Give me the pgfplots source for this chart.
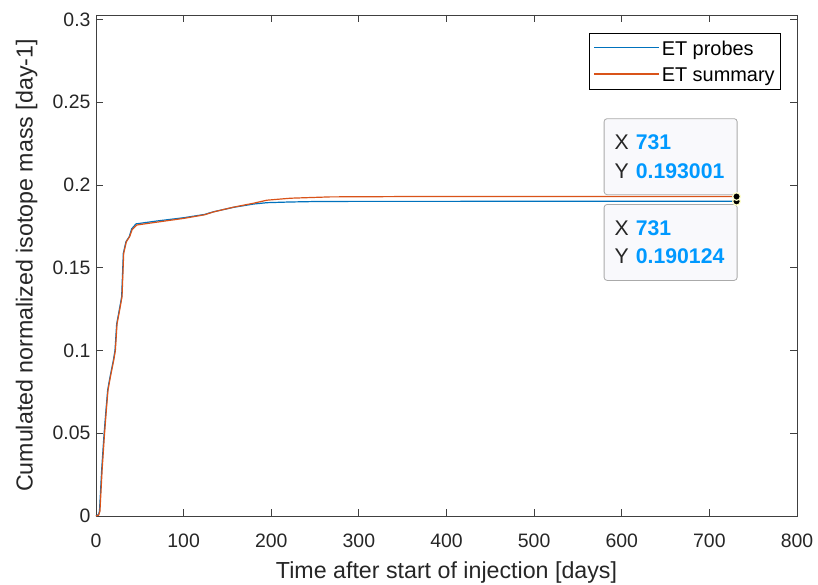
\documentclass[border=0pt]{standalone}
\usepackage{pgfplots}
\pgfplotsset{compat=1.18}
\usepackage{fontspec}
\setmainfont{Liberation Sans}
\usetikzlibrary{calc}
\definecolor{mblue}{rgb}{0,0.447,0.741}
\definecolor{morange}{rgb}{0.85,0.325,0.098}
\definecolor{axc}{RGB}{64,64,64}
\definecolor{txt}{RGB}{38,38,38}
\definecolor{tipval}{RGB}{0,153,255}
\definecolor{tipfill}{RGB}{249,249,252}
\definecolor{tipedge}{RGB}{170,170,170}
\definecolor{tipmark}{RGB}{255,255,200}
\begin{document}
\begin{tikzpicture}
\begin{axis}[
  scale only axis,
  width=701bp, height=501bp,
  xmin=0, xmax=800, ymin=0, ymax=0.3027,
  xtick={0,100,...,800},
  ytick={0,0.05,0.1,0.15,0.2,0.25,0.3},
  yticklabels={0,0.05,0.1,0.15,0.2,0.25,0.3},
  scaled y ticks=false,
  /pgf/number format/assume math mode=true,
  tick label style={font=\fontsize{19.5}{19.5}\selectfont, text=txt},
  xticklabel style={yshift=-14.5bp},
  yticklabel style={xshift=-2bp},
  axis line style={axc, line width=0.9bp},
  every tick/.style={axc, line width=0.9bp},
  major tick length=7bp,
  tick align=inside,
  xlabel={Time after start of injection [days]},
  ylabel={Cumulated normalized isotope mass [day-1]},
  every axis x label/.style={at={(axis description cs:0.5,-0.1244)}, anchor=base},
  every axis y label/.style={at={(axis description cs:-0.0903,0.5)}, anchor=base, rotate=90},
  label style={font=\fontsize{23.3}{23.3}\selectfont, text=txt},
  legend style={at={(0.7038,0.965)}, anchor=north west, draw=black, line width=0.8bp,
    font=\fontsize{20}{24}\selectfont, inner xsep=3.8bp, inner ysep=3.8bp, row sep=4bp},
  legend cell align=left,
  legend image code/.code={\draw[line width=1.2bp, #1] (0bp,0bp) -- (65bp,0bp);},
  clip=false,
]
\addplot[mblue, line width=1.2bp, forget plot] coordinates {
(0,0) (3,0.001) (4,0.003) (6.5,0.028) (9,0.048) (11.4,0.064) (13.3,0.076)
(16,0.084) (19.8,0.094) (21.7,0.100) (23.6,0.116) (26.6,0.1245) (29.3,0.1325)
(31.2,0.1587) (34.2,0.1657) (38,0.1688) (40.7,0.1735) (45.7,0.1765) (69,0.1782)
(100,0.1802) (124,0.1822) (134,0.1838) (157,0.1865) (180,0.1885) (195,0.1893)
(220,0.1897) (250,0.1900) (300,0.1901) (731,0.190124)};
\addplot[morange, line width=1.2bp, forget plot] coordinates {
(0,0) (3,0.0005) (4.5,0.003) (7,0.028) (9.5,0.048) (11.8,0.064) (13.7,0.076)
(16.4,0.084) (20.2,0.094) (22.1,0.100) (24,0.116) (27,0.1245) (29.7,0.1325)
(31.6,0.1587) (34.6,0.1657) (38.4,0.1688) (41.2,0.1730) (46.5,0.1758) (69,0.1775)
(100,0.1798) (124,0.1820) (134,0.1837) (157,0.1866) (180,0.1890) (195,0.1908)
(222,0.1920) (267,0.1928) (350,0.1930) (731,0.193001)};
\addlegendimage{draw=mblue}
\addlegendentry{\strut ET probes}
\addlegendimage{draw=morange}
\addlegendentry{\strut ET summary}
\addplot[only marks, mark=*, mark size=3.8bp, mark options={fill=black, draw=tipmark, line width=1.2bp}, forget plot] coordinates {(731,0.190124)};
\addplot[only marks, mark=*, mark size=3.8bp, mark options={fill=black, draw=tipmark, line width=1.2bp}, forget plot] coordinates {(731,0.193001)};
\tikzset{tipbox/.style={draw=tipedge, fill=tipfill, rounded corners=3bp, line width=0.8bp,
  minimum width=133bp, minimum height=76bp, text width=112bp, inner xsep=10.5bp,
  align=left, font=\fontsize{21.3}{28.4}\selectfont, text=txt}}
\node[tipbox, anchor=south east] at ($(axis cs:731,0.193001)+(1bp,1.5bp)$)
  {X \textcolor{tipval}{\textbf{731}}\\Y \textcolor{tipval}{\textbf{0.193001}}};
\node[tipbox, anchor=north east] at ($(axis cs:731,0.190124)+(1bp,-2.7bp)$)
  {X \textcolor{tipval}{\textbf{731}}\\Y \textcolor{tipval}{\textbf{0.190124}}};
\end{axis}
\pgfresetboundingbox
\path[use as bounding box] ($(current axis.south west)+(-96bp,-69bp)$) rectangle ($(current axis.north east)+(21bp,15bp)$);
\end{tikzpicture}
\end{document}
